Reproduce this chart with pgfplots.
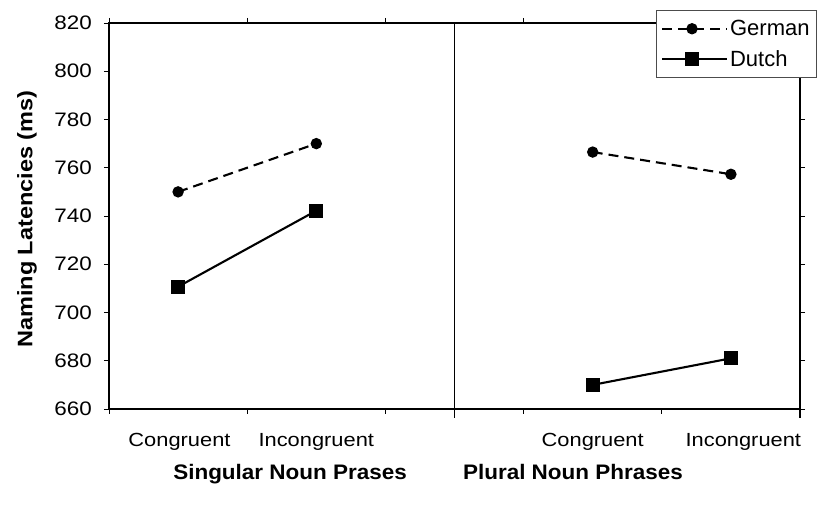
\documentclass[border=0pt]{standalone}
\usepackage{fontspec}
\setmainfont{Liberation Sans}
\newfontfamily\tickfont[FakeStretch=1.15]{Liberation Sans}
\newfontfamily\catfont[FakeStretch=1.15]{Liberation Sans}
\newfontfamily\titlefont[FakeStretch=1.07]{Liberation Sans}
\newfontfamily\ylabfont[FakeStretch=1.12]{Liberation Sans}
\usepackage{pgfplots}
\pgfplotsset{compat=1.18}
\begin{document}
\begin{tikzpicture}
\useasboundingbox (0,0) rectangle (819bp,509bp);
\begin{axis}[
  at={(109bp,100bp)}, anchor=south west,
  scale only axis, width=691bp, height=386bp,
  xmin=0, xmax=5, ymin=660, ymax=820,
  xtick={0,1,2,3,4,5}, xticklabels={},
  ytick={660,680,...,820},
  tick align=outside, major tick length=5bp,
  tick style={black, line width=0.9bp},
  axis line style={black, line width=1.2bp},
  /pgf/number format/assume math mode=true,
  yticklabel style={font=\tickfont\fontsize{19.5bp}{22bp}\selectfont, inner sep=0pt, anchor=east, xshift=-12bp},
  clip=false,
  legend style={at={(axis description cs:1.0246,1.034)}, anchor=north east,
    draw=black!70, line width=0.9bp, fill=white,
    font=\fontsize{22bp}{25bp}\selectfont,
    inner xsep=5bp, inner ysep=8bp, row sep=9bp,
    nodes={inner sep=2bp}, cells={anchor=west}},
  legend image code/.code={\draw[mark repeat=2,mark phase=2,#1] plot coordinates {(0bp,0bp)(30bp,0bp)(65bp,0bp)};},
]
\addplot[black, line width=2.1bp, dash pattern=on 10bp off 6bp, mark=*, mark size=4.6bp, mark options={solid}]
  coordinates {(0.5,750) (1.5,770)};
\addlegendentry{German}
\addplot[black, line width=2.1bp, mark=square*, mark size=6bp, mark options={solid}]
  coordinates {(0.5,710.7) (1.5,742.2)};
\addlegendentry{Dutch}
\addplot[black, line width=2.1bp, dash pattern=on 10bp off 6bp, mark=*, mark size=4.6bp, mark options={solid}, forget plot]
  coordinates {(3.5,766.5) (4.5,757.3)};
\addplot[black, line width=2.1bp, mark=square*, mark size=6bp, mark options={solid}, forget plot]
  coordinates {(3.5,670) (4.5,681)};
\draw[black, line width=1.8bp] (axis cs:2.5,820) -- ([yshift=-9bp]axis cs:2.5,660);
\draw[black, line width=1.2bp] (axis cs:5,660) -- ([yshift=-9bp]axis cs:5,660);
\node[font=\catfont\fontsize{19bp}{22bp}\selectfont, anchor=base, yshift=-38bp] at (axis cs:0.51,660) {Congruent};
\node[font=\catfont\fontsize{19bp}{22bp}\selectfont, anchor=base, yshift=-38bp] at (axis cs:1.50,660) {Incongruent};
\node[font=\catfont\fontsize{19bp}{22bp}\selectfont, anchor=base, yshift=-38bp] at (axis cs:3.50,660) {Congruent};
\node[font=\catfont\fontsize{19bp}{22bp}\selectfont, anchor=base, yshift=-38bp] at (axis cs:4.59,660) {Incongruent};
\node[font=\titlefont\bfseries\fontsize{21bp}{24bp}\selectfont, anchor=base, yshift=-70bp] at (axis cs:1.31,660) {Singular Noun Prases};
\node[font=\titlefont\bfseries\fontsize{21bp}{24bp}\selectfont, anchor=base, yshift=-70bp] at (axis cs:3.357,660) {Plural Noun Phrases};
\node[font=\ylabfont\bfseries\fontsize{21bp}{24bp}\selectfont, rotate=90, anchor=base] at (axis description cs:-0.111,0.492) {Naming Latencies (ms)};
\end{axis}
\end{tikzpicture}
\end{document}
